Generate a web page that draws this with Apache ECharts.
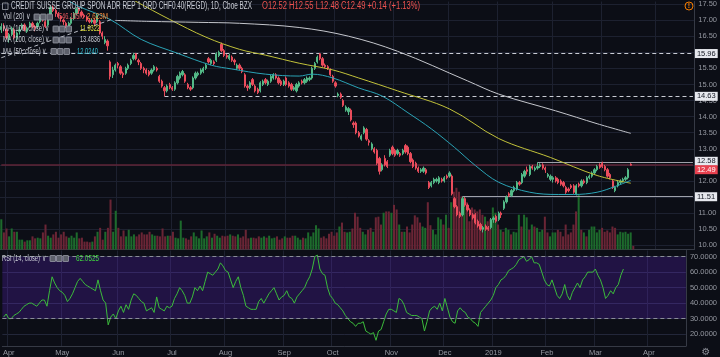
<!DOCTYPE html>
<html><head><meta charset="utf-8">
<script src="https://cdn.jsdelivr.net/npm/echarts@6/dist/echarts.min.js"></script>
<style>html,body{margin:0;padding:0;background:#0c0e16;}#c{width:720px;height:357px;}</style>
</head><body><div id="c"></div>
<script>
// ---------- DATA ----------
const holidays = ['2018-03-30','2018-05-28','2018-07-04','2018-09-03','2018-11-22','2018-12-05','2018-12-25','2019-01-01','2019-01-21','2019-02-18','2019-04-19'];
const firstDay = '2018-03-28', lastDay = '2019-04-22';
const tickLabels = ['Apr','May','Jun','Jul','Aug','Sep','Oct','Nov','Dec','2019','Feb','Mar','Apr'];
const priceTicks = [10,10.5,11,11.5,12,12.5,13,13.5,14,14.5,15,15.5,16,16.5,17,17.5];
const rsiTicks = [20,30,40,50,60,70];

// [open, close, low, high]
const ohlc = [
[16.70,16.80,16.60,16.90],[16.80,16.75,16.65,16.90],[16.70,16.45,16.40,16.75],[16.40,16.55,16.30,16.60],[16.55,16.75,16.50,16.80],
[16.70,16.45,16.40,16.75],[16.45,16.60,16.35,16.65],[16.65,16.70,16.55,16.80],[16.75,16.85,16.70,16.90],[16.85,16.70,16.65,16.90],
[16.65,16.75,16.60,16.80],[16.80,16.90,16.75,16.95],[16.90,16.80,16.75,16.95],[16.80,16.75,16.65,16.85],[16.80,16.90,16.75,16.95],
[16.95,17.05,16.90,17.10],[17.05,17.00,16.95,17.15],[16.95,16.80,16.75,17.00],[16.85,17.00,16.80,17.05],[17.05,17.40,17.00,17.45],
[17.40,17.30,17.25,17.45],[17.30,17.20,17.10,17.35],[17.20,17.10,17.05,17.25],[17.10,17.05,16.95,17.15],[17.00,16.95,16.85,17.05],
[16.90,16.80,16.75,16.95],[16.80,16.90,16.75,16.95],[16.90,17.05,16.85,17.10],[17.05,17.20,17.00,17.25],[17.20,17.35,17.15,17.40],
[17.35,17.30,17.20,17.40],[17.25,17.15,17.10,17.30],[17.15,17.10,17.05,17.20],[17.10,17.00,16.95,17.15],[17.00,16.95,16.90,17.05],
[16.95,17.00,16.90,17.05],[17.00,16.90,16.85,17.05],[16.95,17.15,16.90,17.20],[16.95,16.60,16.55,17.00],[16.60,16.50,16.40,16.65],
[16.30,16.40,16.25,16.50],[16.35,16.20,16.05,16.40],[15.70,15.25,15.15,15.75],[15.30,15.45,15.20,15.55],[15.45,15.60,15.40,15.65],
[15.65,15.60,15.50,15.70],[15.55,15.35,15.30,15.60],[15.35,15.30,15.20,15.40],[15.35,15.50,15.30,15.55],[15.50,15.60,15.45,15.65],
[15.65,15.75,15.60,15.80],[15.80,15.90,15.75,15.98],[15.95,15.80,15.75,15.98],[15.75,15.70,15.60,15.80],[15.65,15.50,15.45,15.70],
[15.50,15.45,15.35,15.55],[15.45,15.35,15.30,15.50],[15.40,15.30,15.25,15.45],[15.35,15.45,15.30,15.50],[15.45,15.55,15.40,15.60],
[15.50,15.45,15.40,15.55],[15.25,15.10,15.05,15.30],[15.10,14.95,14.90,15.15],[14.90,14.80,14.63,14.95],[14.80,14.95,14.75,15.00],
[15.00,14.90,14.85,15.05],[14.90,14.85,14.80,14.95],[14.85,15.05,14.80,15.10],[15.05,15.25,15.00,15.30],[15.20,15.35,15.15,15.40],
[15.30,15.40,15.25,15.45],[15.30,15.10,15.05,15.35],[15.00,14.90,14.85,15.05],[14.90,14.85,14.80,14.95],[14.90,15.20,14.85,15.25],
[15.20,15.35,15.15,15.40],[15.30,15.35,15.25,15.40],[15.35,15.45,15.30,15.50],[15.40,15.50,15.35,15.55],[15.50,15.60,15.45,15.65],
[15.80,15.70,15.65,15.85],[15.65,15.75,15.60,15.80],[15.70,15.65,15.60,15.75],[15.75,15.95,15.70,16.00],[15.90,16.00,15.85,16.05],
[16.25,16.05,16.00,16.30],[16.05,15.90,15.85,16.10],[15.90,15.85,15.80,15.95],[15.80,15.90,15.75,15.95],[15.85,15.75,15.70,15.90],
[15.75,15.70,15.60,15.80],[15.50,15.60,15.45,15.65],[15.60,15.50,15.45,15.65],[15.50,15.40,15.35,15.55],[15.30,14.95,14.90,15.35],
[14.95,14.90,14.80,15.00],[14.90,15.05,14.85,15.10],[15.15,15.00,14.95,15.20],[14.95,14.80,14.75,15.00],[14.85,14.75,14.70,14.90],
[14.80,15.05,14.75,15.10],[15.00,15.10,14.95,15.15],[15.15,15.05,15.00,15.20],[15.00,15.10,14.95,15.15],[15.10,15.25,15.05,15.30],
[15.20,15.30,15.15,15.35],[15.30,15.20,15.15,15.35],[15.20,15.05,15.00,15.25],[15.10,15.00,14.95,15.15],[15.00,15.10,14.95,15.15],
[15.20,15.00,14.95,15.25],[15.05,14.95,14.90,15.10],[15.00,14.85,14.80,15.05],[14.85,14.90,14.80,14.95],[14.80,15.00,14.75,15.05],
[14.95,15.05,14.90,15.10],[15.10,15.05,15.00,15.15],[15.05,15.15,15.00,15.20],[15.10,15.20,15.05,15.25],[15.15,15.20,15.10,15.25],
[15.20,15.50,15.15,15.55],[15.50,15.65,15.45,15.70],[15.70,15.85,15.65,15.90],[15.95,15.80,15.75,15.98],[15.80,15.60,15.55,15.85],
[15.60,15.55,15.50,15.65],[15.55,15.50,15.45,15.60],[15.45,15.30,15.25,15.50],[15.25,15.10,15.05,15.30],[15.05,14.95,14.90,15.10],
[14.65,14.70,14.60,14.75],[14.70,14.60,14.55,14.75],[14.50,14.35,14.30,14.55],[14.20,14.30,14.15,14.35],[14.15,14.25,14.05,14.30],
[14.20,13.90,13.85,14.25],[13.80,13.75,13.65,13.85],[13.80,13.50,13.45,13.85],[13.50,13.40,13.35,13.55],[13.30,13.40,13.25,13.45],
[13.50,13.65,13.45,13.70],[13.60,13.30,13.25,13.65],[13.25,13.20,13.10,13.30],[13.00,13.15,12.95,13.20],[13.00,12.90,12.85,13.05],
[12.95,12.55,12.50,13.00],[12.70,12.30,12.20,12.75],[12.35,12.50,12.30,12.55],[12.70,12.50,12.45,12.80],[12.60,12.45,12.40,12.65],
[12.80,12.95,12.75,13.00],[13.05,12.85,12.80,13.10],[12.95,12.80,12.75,13.00],[12.85,12.95,12.80,13.00],[12.85,12.80,12.75,12.90],
[12.85,12.95,12.80,13.00],[13.10,12.90,12.85,13.15],[13.05,12.85,12.80,13.10],[12.85,12.60,12.55,12.90],[12.65,12.45,12.40,12.70],
[12.55,12.40,12.35,12.60],[12.40,12.30,12.25,12.45],[12.30,12.35,12.25,12.40],[12.30,12.40,12.25,12.45],[12.35,12.25,12.20,12.40],
[11.95,11.80,11.75,12.00],[11.85,11.95,11.80,12.00],[11.95,12.05,11.90,12.10],[12.00,12.05,11.95,12.10],[11.95,12.10,11.90,12.15],
[12.05,12.00,11.95,12.10],[12.00,12.10,11.95,12.15],[12.15,12.10,12.05,12.20],[12.15,12.25,12.10,12.30],[12.15,11.60,11.55,12.20],
[11.45,11.20,11.15,11.50],[11.20,10.95,10.90,11.25],[11.00,10.90,10.85,11.05],[10.95,11.45,10.90,11.51],[11.45,11.25,11.20,11.50],
[11.25,11.10,11.05,11.30],[11.10,10.95,10.90,11.15],[10.95,10.85,10.80,11.00],[10.95,10.70,10.65,11.00],[10.75,10.60,10.55,10.80],
[10.65,10.50,10.45,10.70],[10.50,10.55,10.40,10.60],[10.60,10.50,10.45,10.65],[10.55,10.50,10.45,10.60],[10.55,10.80,10.50,10.85],
[10.80,10.85,10.70,10.90],[10.90,10.75,10.70,10.95],[10.80,11.00,10.75,11.05],[11.00,10.95,10.85,11.05],[11.15,11.35,11.10,11.40],
[11.35,11.50,11.30,11.55],[11.60,11.55,11.50,11.65],[11.55,11.70,11.50,11.75],[11.70,11.80,11.65,11.85],[11.75,11.95,11.70,12.00],
[11.95,11.90,11.85,12.00],[11.95,12.20,11.90,12.25],[12.15,12.30,12.10,12.35],[12.35,12.30,12.20,12.45],[12.20,12.45,12.15,12.50],
[12.45,12.40,12.35,12.50],[12.35,12.40,12.30,12.45],[12.40,12.45,12.35,12.58],[12.45,12.50,12.40,12.55],[12.50,12.40,12.35,12.55],
[12.40,12.35,12.25,12.45],[12.15,12.20,12.10,12.25],[12.05,12.15,12.00,12.20],[12.05,12.10,11.95,12.15],[12.10,12.00,11.95,12.15],
[12.05,11.95,11.90,12.10],[12.00,11.90,11.85,12.05],[11.95,11.85,11.80,12.00],[11.80,11.65,11.60,11.85],[11.75,11.70,11.65,11.80],
[11.85,11.80,11.75,11.90],[11.85,11.65,11.60,11.90],[11.60,11.85,11.55,11.90],[11.90,11.85,11.80,11.95],[11.85,12.00,11.80,12.05],
[12.00,11.95,11.90,12.05],[11.95,12.10,11.90,12.15],[12.10,12.15,12.05,12.20],[12.15,12.25,12.10,12.30],[12.25,12.35,12.20,12.40],
[12.35,12.45,12.30,12.50],[12.50,12.42,12.38,12.55],[12.55,12.45,12.40,12.60],[12.45,12.35,12.30,12.50],[12.35,12.15,12.10,12.40],
[12.20,12.10,12.05,12.25],[12.00,11.80,11.75,12.05],[11.70,11.80,11.65,11.85],[11.85,11.95,11.80,12.00],[11.95,12.00,11.90,12.05],
[12.00,12.05,11.95,12.10],[12.05,12.10,12.00,12.15],[12.10,12.35,12.05,12.40],[12.52,12.49,12.48,12.55]
];

// volume, millions
const volume = [
4.6,2.6,3.2,2.0,3.2,2.7,2.7,1.5,1.5,1.2, 1.4,1.4,2.0,1.7,1.8,1.7,2.6,3.8,2.1,1.8,
2.3,2.7,1.8,2.3,2.7,2.0,1.8,2.1,1.8,2.6, 1.7,1.8,1.2,1.2,1.1,1.2,2.0,2.7,3.3,1.5,
2.7,3.3,7.6,2.7,5.9,3.3,2.0,2.9,2.0,3.0, 2.0,2.3,2.0,2.3,2.6,2.3,2.3,2.7,2.3,2.1,
2.1,2.0,3.2,2.0,2.1,2.1,2.7,1.8,1.7,4.4, 1.8,1.7,1.5,2.0,2.6,2.0,1.7,2.9,1.7,2.0,
2.6,1.8,2.4,2.1,1.8,2.1,2.0,2.1,2.3,2.1, 2.0,2.3,1.8,2.0,3.0,1.7,1.8,1.8,1.7,2.0,
1.8,2.0,1.8,2.1,1.7,1.8,2.0,1.5,1.7,2.0, 1.8,1.8,2.1,2.1,1.8,1.5,1.8,1.7,2.6,2.0,
2.6,3.7,3.2,1.8,2.0,1.7,2.4,2.7,2.1,2.6, 3.5,4.1,2.7,2.6,2.7,3.2,5.6,5.0,3.3,2.7,
2.3,3.0,3.3,2.7,4.9,5.0,3.8,5.6,5.8,5.8, 5.6,6.8,6.1,3.8,2.7,2.7,3.5,2.6,3.8,5.2,
4.9,4.1,3.5,3.3,7.2,3.7,3.0,2.3,4.9,4.6, 3.8,5.3,3.3,7.2,8.8,9.4,8.8,8.1,8.1,7.2,
4.3,6.4,6.1,5.8,6.1,5.3,5.0,4.3,4.6,6.4, 5.6,3.8,3.0,2.7,3.3,3.0,2.3,2.7,2.6,5.3,
3.5,5.3,4.9,3.0,3.8,3.5,3.3,2.7,3.0,5.0, 2.6,2.0,2.6,2.6,3.0,2.7,2.0,3.8,2.3,2.6,
3.8,5.8,8.4,3.0,2.6,2.0,3.0,3.5,3.5,2.6, 3.0,3.3,2.7,2.9,2.6,3.5,3.3,2.3,2.7,2.6,
2.7,2.4,2.6,0.55
];

const rsi = [
31,33,30,30,32,33,34,36,38,39, 40,40,39,38,40,42,42,38,48,57, 53,50,48,47,45,41,43,46,50,54,
56,54,52,51,50,49,48,55,48,42, 40,26,31,33,30,35,38,34,39,36, 42,46,45,43,41,40,35,36,37,34,
44,37,36,35,38,37,38,43,46,50, 48,45,40,40,44,50,48,51,48,54, 60,59,58,60,62,66,64,61,60,55,
50,54,57,50,45,38,37,36,36,36, 41,43,40,43,46,48,50,46,42,44, 45,48,44,43,40,44,46,48,50,54,
57,62,70,71,62,59,58,50,45,43, 40,39,37,35,32,30,28,27,25,27, 27,28,22,21,20,21,16,22,23,28,
33,36,36,35,34,43,42,39,34,33, 32,32,32,31,30,22,28,35,37,38, 36,40,35,43,37,31,28,27,35,37,
35,34,31,30,28,27,25,34,36,38, 40,42,45,50,52,55,56,58,61,62, 63,65,68,69,70,67,68,70,66,66,
65,60,55,52,51,55,50,45,43,46, 52,45,42,47,50,53,50,55,57,60, 60,60,62,58,55,50,43,45,48,46,
50,52,58,62
];

// moving averages: [bar index, value]
const ma50 = [[26,17.60],[30,17.42],[42,17.02],[54,16.40],[68,15.97],[81,15.60],[89,15.48],[102,15.32],[115,15.26],[120,15.32],[128,15.20],[138,14.89],[147,14.64],[157,14.12],[166,13.62],[175,13.04],[183,12.48],[192,11.96],[204,11.65],[215,11.58],[221,11.58],[230,11.65],[237,11.83],[243,12.02]];
const ma100 = [[50,17.68],[52,17.58],[65,17.02],[79,16.47],[92,16.09],[102,15.91],[115,15.66],[128,15.45],[138,15.20],[153,14.80],[173,14.24],[192,13.32],[212,12.73],[230,12.17],[243,11.93]];
const ma200 = [[44,16.99],[57,16.96],[76,16.93],[92,16.90],[115,16.77],[134,16.50],[153,16.03],[180,15.11],[192,14.70],[214,14.18],[230,13.78],[243,13.48]];
const trendLine = [[0,15.83],[43,17.03]];
const levels = [ {v:15.96, from:0, dashed:true}, {v:14.63, from:63, dashed:true}, {v:12.58, from:207, dashed:false}, {v:11.51, from:178, dashed:false} ];

// ---------- BUILD ----------
const dates = [];
for (let d = new Date(firstDay+'T00:00:00Z'); d <= new Date(lastDay+'T00:00:00Z'); d.setUTCDate(d.getUTCDate()+1)) {
  const wd = d.getUTCDay(), s = d.toISOString().slice(0,10);
  if (wd===0 || wd===6 || holidays.includes(s)) continue;
  dates.push(s);
}
const monthStart = {}; let mi = 0;
dates.forEach((d,k)=>{ if (k>0 && d.slice(5,7)!==dates[k-1].slice(5,7)) monthStart[k] = tickLabels[mi++]; });
const isMonth = (i)=> monthStart[i] !== undefined;
const last = dates.length-1;
const lastBar = ohlc[ohlc.length-1];

const UP='#53b987', DN='#eb4d5c', GRID='#1d2130', AX='#363a45', TXT='#9598a1';
const FONT = "'Liberation Sans', Arial, sans-serif";

const volData = volume.map((v,i)=>({value:v, itemStyle:{color: ohlc[i][1]>=ohlc[i][0] ? '#1d6a2c' : '#6a2535'}}));
const pts = a => a.map(p=>[dates[p[0]], p[1]]);

const lvlLines = levels.map(l => [
  {coord:[dates[l.from], l.v], lineStyle:{color: l.dashed?'#c9ccd4':'#9ea1aa', type: l.dashed?[4,3]:'solid', width:1},
   label:{show:true, position:'end', distance:2, offset: l.v===12.58?[0,-1]:[0,0], formatter: l.v.toFixed(2), color:'#131722', backgroundColor:'#e6e8ee', padding:[1,2,0,2], fontSize:7.5, fontFamily:FONT}},
  {coord:[dates[last], l.v]}
]);
lvlLines.push([
  {coord:[dates[0], lastBar[1]], lineStyle:{color:'#5f2437', type:'solid', width:1.5},
   label:{show:true, position:'end', distance:2, offset:[0,4.5], formatter: lastBar[1].toFixed(2), color:'#ffffff', backgroundColor:'#e8414f', padding:[1,2,0,2], fontSize:7.5, fontFamily:FONT}},
  {coord:[dates[last], lastBar[1]]}
]);

// ---------- legend texts ----------
const mctx = document.createElement('canvas').getContext('2d');
function txt(text, x, y, w, color, size) {
  mctx.font = size+'px '+FONT;
  const nat = mctx.measureText(text).width;
  return {type:'text', x:x, y:y, scaleX: w/nat, z:100, silent:true,
    style:{text:text, fill:color, font:size+'px '+FONT, textVerticalAlign:'middle', verticalAlign:'middle'}};
}
function icons(x, y) {
  const out = [];
  for (let k=0;k<3;k++) out.push({type:'rect', z:100, silent:true, shape:{x:x+k*6.5, y:y-3, width:5.5, height:6, r:0.5},
    style:{fill:'#5d606b', stroke:'#a5a8b1', lineWidth:0.7}});
  return out;
}
const W='#c9ccd4';
const graphics = [
  {type:'rect', z:100, silent:true, shape:{x:2.5, y:3, width:5.5, height:6.5}, style:{fill:'none', stroke:'#a5a8b1', lineWidth:0.8}},
  txt('CREDIT SUISSE GROUP SPON ADR REP 1 ORD CHF0.40(REGD), 1D, Cboe BZX', 11, 6.5, 241, W, 10),
  txt('O12.52 H12.55 L12.48 C12.49 +0.14 (+1.13%)', 262, 6.5, 158, '#ef5350', 10),
  txt('Vol (20) \u2228', 3, 17, 28, W, 9), ...icons(34,17),
  txt('546.185K', 59, 17, 24, '#e85a5f', 9), txt('2.623M', 87, 17, 21, '#f08a3c', 9),
  txt('MA (100, close) \u2228', 3, 29, 47, W, 9), ...icons(53,29),
  txt('11.9322', 80, 29, 20, '#d8d83c', 9),
  txt('MA (200, close) \u2228', 3, 40, 47, W, 9), ...icons(53,40),
  txt('13.4836', 80, 40, 20, W, 9),
  txt('MA (50, close) \u2228', 3, 51.5, 44, W, 9), ...icons(51,51.5),
  txt('12.0240', 77, 51.5, 21, '#2fb6c8', 9),
  txt('RSI (14, close) \u2228', 2, 258.5, 44, W, 9), ...icons(50,258.5),
  txt('62.0525', 76, 258.5, 23, '#3fd13f', 9),
  {type:'circle', z:100, silent:true, shape:{cx:689, cy:6, r:4}, style:{fill:'none', stroke:'#f57c00', lineWidth:1}},
  {type:'text', z:100, silent:true, x:689, y:6.5, style:{text:'!', fill:'#f57c00', font:'bold 7px '+FONT, textAlign:'center', align:'center', textVerticalAlign:'middle', verticalAlign:'middle'}},
  {type:'text', z:100, silent:true, x:706, y:352, style:{text:'\u2699', fill:'#8a8d96', font:'10px DejaVu Sans', textAlign:'center', align:'center', textVerticalAlign:'middle', verticalAlign:'middle'}}
];

const chart = echarts.init(document.getElementById('c'), null, {renderer:'canvas'});
chart.setOption({
  animation:false,
  backgroundColor:'#0c0e16',
  textStyle:{fontFamily:FONT},
  grid:[
    {left:0, right:23, top:0, height:249.5},
    {left:0, right:23, top:0, height:249.5},
    {left:0, right:23, top:250.5, height:96.5}
  ],
  xAxis:[
    {type:'category', gridIndex:0, data:dates, boundaryGap:true,
     axisLine:{show:true, lineStyle:{color:AX}}, axisTick:{show:false}, axisLabel:{show:false},
     splitLine:{show:true, interval:isMonth, lineStyle:{color:GRID}}},
    {type:'category', gridIndex:1, data:dates, boundaryGap:true, show:false},
    {type:'category', gridIndex:2, data:dates, boundaryGap:true,
     axisLine:{show:true, lineStyle:{color:AX}}, axisTick:{show:false},
     axisLabel:{interval:isMonth, formatter:(v,i)=>monthStart[i]||'', color:TXT, fontSize:7.5, margin:3, fontFamily:FONT},
     splitLine:{show:true, interval:isMonth, lineStyle:{color:GRID}}}
  ],
  yAxis:[
    {type:'value', gridIndex:0, position:'right', min:9.870, max:17.578,
     axisLine:{show:true, lineStyle:{color:AX}},
     axisTick:{show:false, customValues:priceTicks},
     axisLabel:{customValues:priceTicks, formatter:v=>v.toFixed(2), color:TXT, fontSize:7.5, margin:4, fontFamily:FONT},
     splitLine:{show:true, lineStyle:{color:GRID}}},
    {type:'value', gridIndex:1, min:0, max:38, show:false, splitLine:{show:false}},
    {type:'value', gridIndex:2, position:'right', min:12.34, max:73.96,
     axisLine:{show:true, lineStyle:{color:AX}},
     axisTick:{show:false, customValues:rsiTicks},
     axisLabel:{customValues:rsiTicks, formatter:v=>v.toFixed(4), color:TXT, fontSize:7.5, margin:4, fontFamily:FONT},
     splitLine:{show:true, lineStyle:{color:'#23273a'}}}
  ],
  series:[
    {type:'bar', name:'vol', xAxisIndex:1, yAxisIndex:1, data:volData, barCategoryGap:'22%', z:1, silent:true},
    {type:'candlestick', name:'price', xAxisIndex:0, yAxisIndex:0, data:ohlc, barWidth:'68%', z:3,
     itemStyle:{color:UP, color0:DN, borderColor:UP, borderColor0:DN, borderWidth:1},
     markLine:{silent:true, symbol:['none','none'], animation:false, z:2, data:lvlLines}},
    {type:'line', name:'ma100', xAxisIndex:0, yAxisIndex:0, data:pts(ma100), smooth:0.35, showSymbol:false, z:4,
     lineStyle:{color:'#c2c23a', width:1}},
    {type:'line', name:'ma200', xAxisIndex:0, yAxisIndex:0, data:pts(ma200), smooth:0.35, showSymbol:false, z:4,
     lineStyle:{color:'#c4c6cc', width:1}},
    {type:'line', name:'ma50', xAxisIndex:0, yAxisIndex:0, data:pts(ma50), smooth:0.35, showSymbol:false, z:4,
     lineStyle:{color:'#2aa3b5', width:1}},
    {type:'line', name:'trend', xAxisIndex:0, yAxisIndex:0, data:pts(trendLine), showSymbol:false, z:4,
     lineStyle:{color:'#b9bcc5', width:1, type:[4,3]}},
    {type:'line', name:'rsi', xAxisIndex:2, yAxisIndex:2, data:rsi, showSymbol:false, z:4,
     lineStyle:{color:'#3bbb3b', width:1},
     markArea:{silent:true, itemStyle:{color:'rgba(120,40,255,0.2)'}, data:[[{yAxis:30},{yAxis:70}]]},
     markLine:{silent:true, symbol:['none','none'], label:{show:false},
       lineStyle:{color:'#8a8d98', type:[4,3], width:1}, data:[{yAxis:70},{yAxis:30}]}}
  ],
  graphic: graphics
});
</script></body></html>
